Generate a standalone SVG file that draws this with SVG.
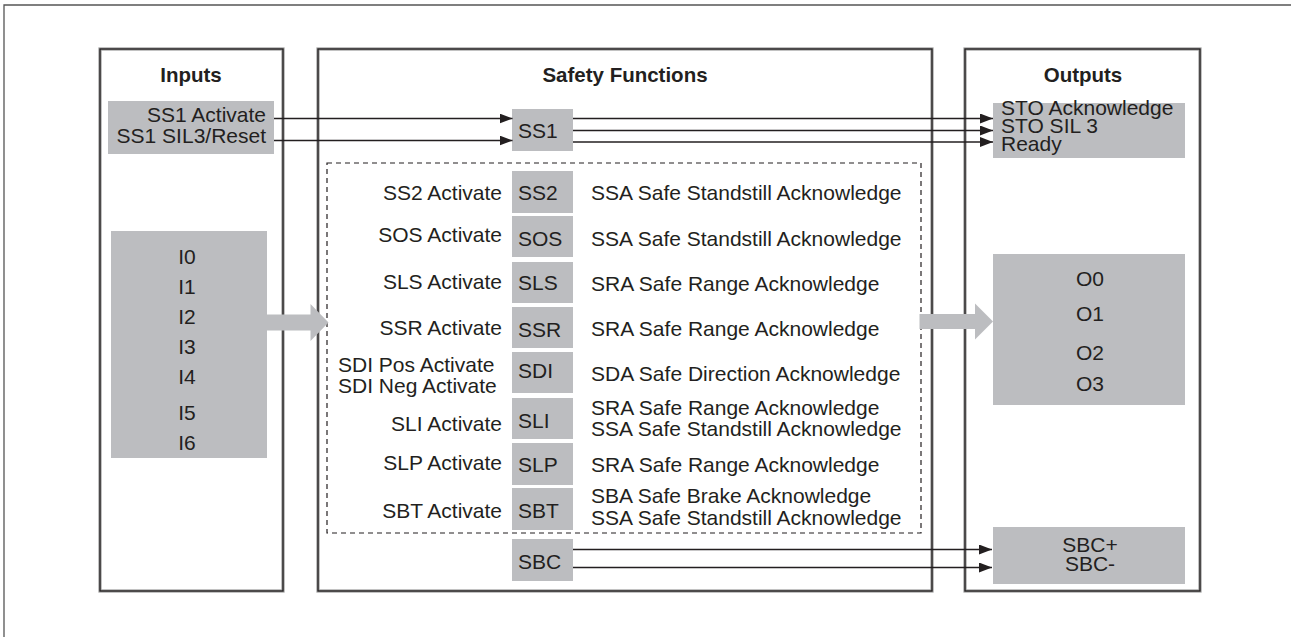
<svg xmlns="http://www.w3.org/2000/svg" width="1291" height="637" viewBox="0 0 1291 637">
<defs>
<style>
text{font-family:"Liberation Sans",Arial,sans-serif;font-size:21px;fill:#231f20}
.t{font-weight:bold;text-anchor:middle;font-size:20.5px}
.e{text-anchor:end}
.m{text-anchor:middle}
.g{fill:#bcbdc0}
.pan-sh{fill:none;stroke:#9a9a9a;stroke-width:3.2}
.pan{fill:none;stroke:#231f20;stroke-width:1.3}
.ln{fill:none;stroke:#231f20;stroke-width:1.4}
.fat{fill:#bcbdc0}
</style>
<marker id="ah" markerWidth="13" markerHeight="10" refX="13" refY="5" orient="auto" markerUnits="userSpaceOnUse">
<path d="M0,0 L13,5 L0,10 Z" fill="#231f20"/>
</marker>
</defs>
<rect width="1291" height="637" fill="#fff"/>
<path d="M4,637 V5 H1291" fill="none" stroke="#555" stroke-width="1.3"/>

<g id="panel-inputs">
<rect class="pan-sh" x="100" y="49" width="183" height="542"/>
<rect class="pan" x="100" y="49" width="183" height="542" fill="#fff"/>
<text class="t" x="191" y="82">Inputs</text>
</g>
<g id="panel-safety">
<rect class="pan-sh" x="318" y="49" width="614" height="542"/>
<rect class="pan" x="318" y="49" width="614" height="542" fill="#fff"/>
<text class="t" x="625" y="82">Safety Functions</text>
</g>
<g id="panel-outputs">
<rect class="pan-sh" x="965" y="49" width="235" height="542"/>
<rect class="pan" x="965" y="49" width="235" height="542" fill="#fff"/>
<text class="t" x="1083" y="82">Outputs</text>
</g>

<g id="in-ss1">
<rect class="g" x="108" y="101" width="166" height="53"/>
<text class="e" x="266" y="122">SS1 Activate</text>
<text class="e" x="266" y="143">SS1 SIL3/Reset</text>
</g>

<g id="in-io">
<rect class="g" x="111" y="231" width="156" height="227"/>
<text class="m" x="187" y="264">I0</text>
<text class="m" x="187" y="294">I1</text>
<text class="m" x="187" y="324">I2</text>
<text class="m" x="187" y="354">I3</text>
<text class="m" x="187" y="384">I4</text>
<text class="m" x="187" y="420">I5</text>
<text class="m" x="187" y="450">I6</text>
</g>

<g id="ss1">
<rect class="g" x="512" y="109" width="61" height="42"/>
<text x="518" y="138">SS1</text>
</g>

<g id="dashed-group">
<rect x="327" y="163" width="594" height="370" fill="none" stroke="#231f20" stroke-width="1.2" stroke-dasharray="5,4"/>
</g>

<g id="row-ss2">
<text class="e" x="502" y="200">SS2 Activate</text>
<rect class="g" x="512" y="171" width="61" height="42"/>
<text x="518" y="200">SS2</text>
<text x="591" y="200">SSA Safe Standstill Acknowledge</text>
</g>
<g id="row-sos">
<text class="e" x="502" y="242">SOS Activate</text>
<rect class="g" x="512" y="216" width="61" height="41"/>
<text x="518" y="246">SOS</text>
<text x="591" y="246">SSA Safe Standstill Acknowledge</text>
</g>
<g id="row-sls">
<text class="e" x="502" y="289">SLS Activate</text>
<rect class="g" x="512" y="262" width="61" height="41"/>
<text x="518" y="290">SLS</text>
<text x="591" y="291">SRA Safe Range Acknowledge</text>
</g>
<g id="row-ssr">
<text class="e" x="502" y="335">SSR Activate</text>
<rect class="g" x="512" y="307" width="61" height="41"/>
<text x="518" y="337">SSR</text>
<text x="591" y="336">SRA Safe Range Acknowledge</text>
</g>
<g id="row-sdi">
<text x="338" y="372">SDI Pos Activate</text>
<text x="338" y="393">SDI Neg Activate</text>
<rect class="g" x="512" y="352" width="61" height="41"/>
<text x="518" y="378">SDI</text>
<text x="591" y="381">SDA Safe Direction Acknowledge</text>
</g>
<g id="row-sli">
<text class="e" x="502" y="431">SLI Activate</text>
<rect class="g" x="512" y="398" width="61" height="41"/>
<text x="518" y="428">SLI</text>
<text x="591" y="415">SRA Safe Range Acknowledge</text>
<text x="591" y="436">SSA Safe Standstill Acknowledge</text>
</g>
<g id="row-slp">
<text class="e" x="502" y="470">SLP Activate</text>
<rect class="g" x="512" y="443" width="61" height="42"/>
<text x="518" y="472">SLP</text>
<text x="591" y="472">SRA Safe Range Acknowledge</text>
</g>
<g id="row-sbt">
<text class="e" x="502" y="518">SBT Activate</text>
<rect class="g" x="512" y="488" width="61" height="42"/>
<text x="518" y="518">SBT</text>
<text x="591" y="503">SBA Safe Brake Acknowledge</text>
<text x="591" y="525">SSA Safe Standstill Acknowledge</text>
</g>

<g id="sbc">
<rect class="g" x="512" y="539" width="61" height="42"/>
<text x="518" y="569">SBC</text>
</g>

<g id="out-sto">
<rect class="g" x="993" y="103" width="192" height="55"/>
<text x="1001" y="115">STO Acknowledge</text>
<text x="1001" y="133">STO SIL 3</text>
<text x="1001" y="151">Ready</text>
</g>

<g id="out-o">
<rect class="g" x="993" y="254" width="192" height="151"/>
<text class="m" x="1090" y="286">O0</text>
<text class="m" x="1090" y="321">O1</text>
<text class="m" x="1090" y="360">O2</text>
<text class="m" x="1090" y="391">O3</text>
</g>

<g id="out-sbc">
<rect class="g" x="993" y="527" width="192" height="57"/>
<text class="m" x="1090" y="552">SBC+</text>
<text class="m" x="1090" y="571">SBC-</text>
</g>

<g id="connectors">
<path class="ln" d="M274,118.5 H512.5" marker-end="url(#ah)"/>
<path class="ln" d="M274,140.5 H512.5" marker-end="url(#ah)"/>
<path class="ln" d="M573,118.5 H993" marker-end="url(#ah)"/>
<path class="ln" d="M573,130.5 H993" marker-end="url(#ah)"/>
<path class="ln" d="M573,142 H993" marker-end="url(#ah)"/>
<path class="ln" d="M573,549.5 H992" marker-end="url(#ah)"/>
<path class="ln" d="M573,567.5 H992" marker-end="url(#ah)"/>
<path class="fat" d="M267,314.5 H310.5 V304 L328.5,322.5 L310.5,341 V330.5 H267 Z"/>
<path class="fat" d="M919.5,314 H975 V303.5 L993,321.5 L975,339.5 V329 H919.5 Z"/>
</g>
</svg>
